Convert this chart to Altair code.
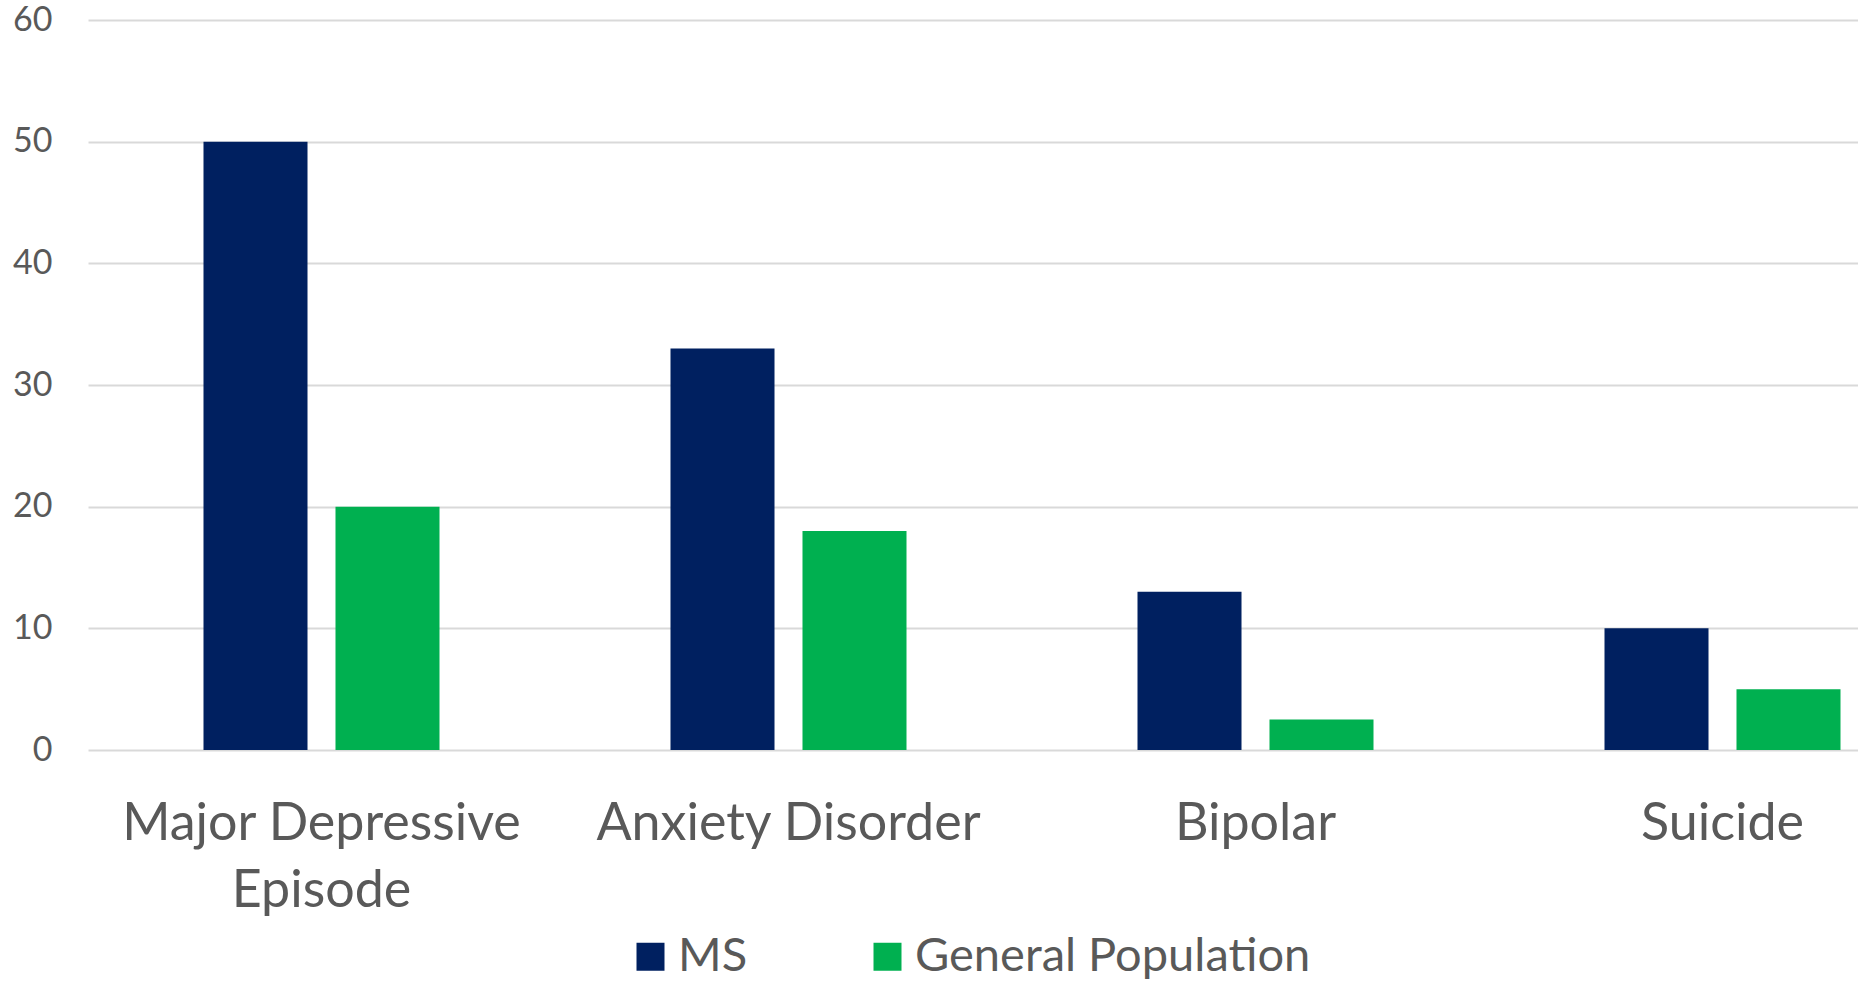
import altair as alt
import pandas as pd

categories = ["Major Depressive Episode", "Anxiety Disorder", "Bipolar", "Suicide"]
series_names = ["MS", "General Population"]
ms_values = [50, 33, 13, 10]
gen_values = [20, 18, 2.5, 5]
y_ticks = [0, 10, 20, 30, 40, 50, 60]
colors = ["#002060", "#00B050"]

rows = []
for c, a, b in zip(categories, ms_values, gen_values):
    rows.append({"category": c, "series": series_names[0], "value": a})
    rows.append({"category": c, "series": series_names[1], "value": b})
df = pd.DataFrame(rows)

FONT = "Lato"
TXT = "#595959"

chart = alt.Chart(df).mark_bar().encode(
    x=alt.X(
        "category:N",
        sort=categories,
        title=None,
        scale=alt.Scale(range=[0, 1868], paddingInner=0, paddingOuter=0),
        axis=alt.Axis(
            domain=False,
            ticks=False,
            labelAngle=0,
            labelFontSize=52,
            labelColor=TXT,
            labelFont=FONT,
            labelPadding=48,
            labelBaseline="top",
            labelLineHeight=67,
            labelLimit=0,
            labelExpr="datum.label == 'Major Depressive Episode' ? ['Major Depressive', 'Episode'] : datum.label",
        ),
    ),
    xOffset=alt.XOffset(
        "series:N",
        sort=series_names,
        scale=alt.Scale(paddingInner=0.212, paddingOuter=0.875),
    ),
    y=alt.Y(
        "value:Q",
        title=None,
        scale=alt.Scale(domain=[0, 60], nice=False),
        axis=alt.Axis(
            values=y_ticks,
            domain=False,
            ticks=False,
            grid=True,
            gridColor="#d9d9d9",
            gridWidth=2,
            labelFontSize=34,
            labelColor=TXT,
            labelFont=FONT,
            labelPadding=36,
        ),
    ),
    color=alt.Color(
        "series:N",
        sort=series_names,
        scale=alt.Scale(domain=series_names, range=colors),
        legend=alt.Legend(
            title=None,
            orient="none",
            legendX=539,
            legendY=913,
            direction="horizontal",
            symbolType="square",
            symbolSize=784,
            symbolStrokeWidth=0,
            labelFontSize=47,
            labelFont=FONT,
            labelColor=TXT,
            labelOffset=4,
            columnPadding=116,
            labelLimit=0,
        ),
    ),
).properties(
    width=1770,
    height=730,
    autosize=alt.AutoSizeParams(type="none"),
    padding={"left": 88, "top": 20, "right": 0, "bottom": 233},
).configure_view(stroke=None)

chart.save("out.html", embed_options={"renderer": "svg", "actions": False})
